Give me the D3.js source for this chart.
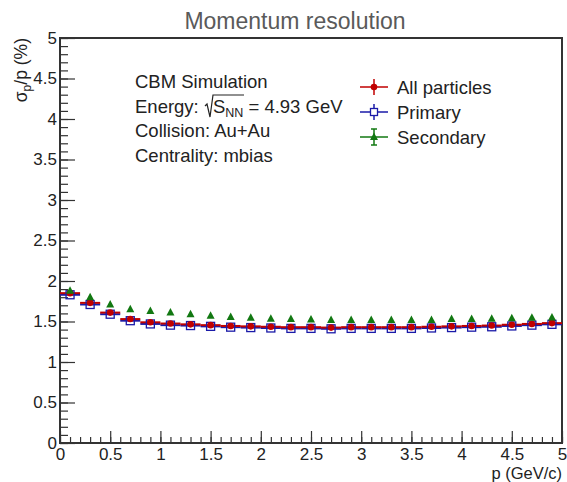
<!DOCTYPE html>
<html>
<head>
<meta charset="utf-8">
<script src="https://cdn.jsdelivr.net/npm/d3@7"></script>
<style>
  html, body { margin: 0; padding: 0; background: #fff; }
  svg { display: block; font-family: "Liberation Sans", Arial, Helvetica, sans-serif; }
</style>
</head>
<body>
<svg id="chart" width="567" height="482"></svg>
<script>
// Bin centres (GeV/c), bin width 0.2
const pCenters = [0.1, 0.3, 0.5, 0.7, 0.9, 1.1, 1.3, 1.5, 1.7, 1.9, 2.1, 2.3, 2.5,
                  2.7, 2.9, 3.1, 3.3, 3.5, 3.7, 3.9, 4.1, 4.3, 4.5, 4.7, 4.9];
const binHalfWidth = 0.1;

// Momentum resolution sigma_p/p (%)
const allParticles = [1.85, 1.73, 1.61, 1.53, 1.49, 1.475, 1.465, 1.455, 1.445, 1.44,
                      1.435, 1.43, 1.43, 1.425, 1.43, 1.43, 1.43, 1.43, 1.435, 1.44,
                      1.445, 1.45, 1.46, 1.47, 1.48];
const primary = [1.83, 1.71, 1.59, 1.51, 1.47, 1.455, 1.45, 1.44, 1.43, 1.425,
                 1.42, 1.415, 1.415, 1.41, 1.415, 1.415, 1.415, 1.415, 1.42, 1.425,
                 1.43, 1.435, 1.445, 1.455, 1.465];
const secondary = [1.88, 1.80, 1.71, 1.65, 1.63, 1.61, 1.59, 1.57, 1.555, 1.545,
                   1.535, 1.53, 1.525, 1.52, 1.52, 1.52, 1.52, 1.52, 1.52, 1.53,
                   1.53, 1.535, 1.54, 1.545, 1.55];

const xMajorTicks = [0, 0.5, 1, 1.5, 2, 2.5, 3, 3.5, 4, 4.5, 5];
const yMajorTicks = [0, 0.5, 1, 1.5, 2, 2.5, 3, 3.5, 4, 4.5, 5];
const minorTicks = d3.range(0, 51).map(i => i / 10);

const infoLines = ["CBM Simulation", "ENERGY", "Collision: Au+Au", "Centrality: mbias"];
const legendLabels = ["All particles", "Primary", "Secondary"];

const colRed = "#c00000", colBlue = "#1a1aa8", colGreen = "#127812";
const frameCol = "#333";

const svg = d3.select("#chart");
const L = 60, R = 562, T = 38, B = 443;
const x = d3.scaleLinear().domain([0, 5]).range([L, R]);
const y = d3.scaleLinear().domain([0, 5]).range([B, T]);

// Title
svg.append("text").attr("x", 295).attr("y", 29).attr("text-anchor", "middle")
  .attr("font-size", 23).attr("fill", "#5a5a5a").text("Momentum resolution");

// Axes: ticks pointing inward
const fmt = d => d3.format("")(d);
const xMinor = svg.append("g").attr("transform", `translate(0,${B})`)
  .call(d3.axisBottom(x).tickValues(minorTicks).tickSize(-6).tickFormat(""));
const xMajor = svg.append("g").attr("transform", `translate(0,${B})`)
  .call(d3.axisBottom(x).tickValues(xMajorTicks).tickSize(-12).tickPadding(3).tickFormat(fmt));
const yMinor = svg.append("g").attr("transform", `translate(${L},0)`)
  .call(d3.axisLeft(y).tickValues(minorTicks).tickSize(-8).tickFormat(""));
const yMajor = svg.append("g").attr("transform", `translate(${L},0)`)
  .call(d3.axisLeft(y).tickValues(yMajorTicks).tickSize(-15).tickPadding(3).tickFormat(fmt));

[xMinor, xMajor, yMinor, yMajor].forEach(g => {
  g.select(".domain").remove();
  g.selectAll(".tick line").attr("stroke", frameCol).attr("stroke-width", 1.2);
  g.selectAll(".tick text").attr("fill", "#222").attr("font-size", 17)
    .attr("font-family", "Liberation Sans, Arial, sans-serif");
});
xMajor.selectAll(".tick text").attr("dy", "0.84em");

// Frame
svg.append("rect").attr("x", L).attr("y", T).attr("width", R - L).attr("height", B - T)
  .attr("fill", "none").attr("stroke", frameCol).attr("stroke-width", 2);

// Axis titles
svg.append("text").attr("x", R).attr("y", 479).attr("text-anchor", "end")
  .attr("font-size", 16.5).attr("fill", "#222").text("p (GeV/c)");
const yl = svg.append("text").attr("transform", `translate(27,${T}) rotate(-90)`)
  .attr("text-anchor", "end").attr("font-size", 17.5).attr("fill", "#222");
yl.append("tspan").text("σ");
yl.append("tspan").attr("font-size", 12).attr("dy", 4).text("p");
yl.append("tspan").attr("dy", -4).text("/p (%)");

// Data series
const series = [
  { name: "primary", vals: primary, color: colBlue, marker: "square", hbar: true },
  { name: "all", vals: allParticles, color: colRed, marker: "circle", hbar: true },
  { name: "secondary", vals: secondary, color: colGreen, marker: "triangle", hbar: false }
];

const plot = svg.append("g");
function drawMarker(g, type, color) {
  if (type === "circle") {
    g.append("circle").attr("r", 3.3).attr("fill", color);
  } else if (type === "square") {
    g.append("rect").attr("x", -4).attr("y", -4).attr("width", 8).attr("height", 8)
      .attr("fill", "none").attr("stroke", color).attr("stroke-width", 1.3);
  } else {
    g.append("path").attr("d", "M0,-4.5L4,3L-4,3Z").attr("fill", color);
  }
}

series.forEach(s => {
  const data = pCenters.map((p, i) => ({ p, v: s.vals[i] }));
  if (s.hbar) {
    plot.append("g").selectAll("line").data(data).join("line")
      .attr("x1", d => x(d.p - binHalfWidth)).attr("x2", d => x(d.p + binHalfWidth))
      .attr("y1", d => y(d.v)).attr("y2", d => y(d.v))
      .attr("stroke", s.color).attr("stroke-width", 2);
  }
});
series.forEach(s => {
  const data = pCenters.map((p, i) => ({ p, v: s.vals[i] }));
  plot.append("g").selectAll("g").data(data).join("g")
    .attr("transform", d => `translate(${x(d.p)},${y(d.v)})`)
    .each(function () { drawMarker(d3.select(this), s.marker, s.color); });
});

// Info text block
const info = svg.append("g").attr("font-size", 18.5).attr("fill", "#222");
infoLines.forEach((t, i) => {
  const ty = 88 + i * 24.7;
  if (t === "ENERGY") {
    const tx = info.append("text").attr("x", 135).attr("y", ty);
    tx.append("tspan").text("Energy: ");
    tx.append("tspan").attr("dx", 9).text("S");
    tx.append("tspan").attr("font-size", 12.5).attr("dy", 4).text("NN");
    tx.append("tspan").attr("dy", -4).text(" = 4.93 GeV");
  } else {
    info.append("text").attr("x", 135).attr("y", ty).text(t);
  }
});
// Radical sign over S_NN
info.append("path")
  .attr("d", "M205,106 L207,104 L210,117 L213,95 L244,95")
  .attr("fill", "none").attr("stroke", "#222").attr("stroke-width", 1.2);

// Legend
const legend = svg.append("g");
const legSeries = [
  { label: legendLabels[0], color: colRed, marker: "circle", cap: false },
  { label: legendLabels[1], color: colBlue, marker: "square", cap: false },
  { label: legendLabels[2], color: colGreen, marker: "triangle", cap: true }
];
legSeries.forEach((s, i) => {
  const cy = 87 + i * 25;
  const g = legend.append("g").attr("transform", `translate(374,${cy})`);
  g.append("line").attr("x1", -14).attr("x2", 14).attr("stroke", s.color).attr("stroke-width", 1.5);
  g.append("line").attr("y1", -8).attr("y2", 8).attr("stroke", s.color).attr("stroke-width", 1.5);
  if (s.cap) {
    g.append("line").attr("x1", -3).attr("x2", 3).attr("y1", -8).attr("y2", -8).attr("stroke", s.color).attr("stroke-width", 1.5);
    g.append("line").attr("x1", -3).attr("x2", 3).attr("y1", 8).attr("y2", 8).attr("stroke", s.color).attr("stroke-width", 1.5);
  }
  const m = g.append("g");
  if (s.marker === "square") {
    m.append("rect").attr("x", -3.5).attr("y", -3.5).attr("width", 7).attr("height", 7)
      .attr("fill", "#fff").attr("stroke", s.color).attr("stroke-width", 1.3);
  } else {
    drawMarker(m, s.marker, s.color);
  }
  legend.append("text").attr("x", 397).attr("y", cy + 6.5).attr("font-size", 18.5)
    .attr("fill", "#222").text(s.label);
});
</script>
</body>
</html>
